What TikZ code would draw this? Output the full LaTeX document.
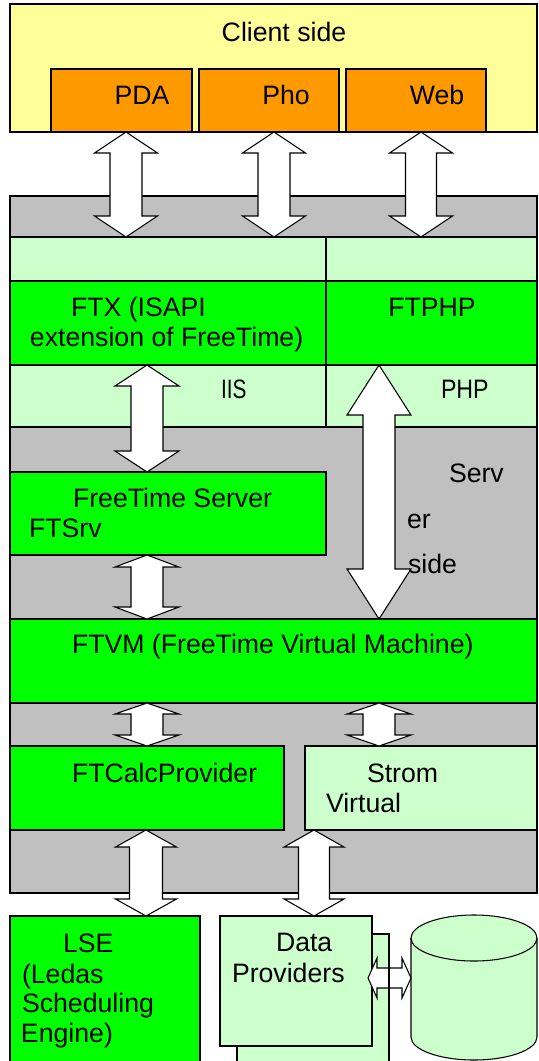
\documentclass[tikz,border=0pt]{standalone}
\usepackage{fontspec}
\setmainfont{Liberation Sans}
\usetikzlibrary{calc}
\definecolor{yel}{HTML}{FFFF99}
\definecolor{org}{HTML}{FF9900}
\definecolor{gry}{HTML}{C0C0C0}
\definecolor{lgr}{HTML}{CCFFCC}
\definecolor{grn}{HTML}{00FF00}
\tikzset{
  box/.style={draw=black, line width=0.8pt, rectangle, inner sep=0pt, outer sep=0pt, anchor=north west},
  lbl/.style={anchor=base west, inner sep=0pt, outer sep=0pt, font=\fontsize{20}{23}\selectfont},
  clbl/.style={lbl, anchor=base},
  blk/.style={draw=black, fill=white, line width=0.8pt, line join=miter},
}
% #1 name, #2 style, #3 x1, #4 y1, #5 x2, #6 y2 (pixels)
\newcommand\mkbox[6]{\node[box,#2,minimum width={(#5-#3)*0.75pt},minimum height={(#6-#4)*0.75pt}] (#1) at (#3,#4) {};}
% vertical double block arrow: #1 top tip, #2 bottom tip, #3 head length, #4 head half width, #5 shaft half width
\newcommand\vdbl[5]{\draw[blk] let \p1=(#1), \p2=(#2) in
  (\p1) -- ($(\p1)+(#4,#3)$) -- ($(\p1)+(#5,#3)$) -- ($(\p2)+(#5,-#3)$) -- ($(\p2)+(#4,-#3)$) -- (\p2)
  -- ($(\p2)+(-#4,-#3)$) -- ($(\p2)+(-#5,-#3)$) -- ($(\p1)+(-#5,#3)$) -- ($(\p1)+(-#4,#3)$) -- cycle;}
% horizontal double block arrow: #1 left tip, #2 right tip
\newcommand\hdbl[5]{\draw[blk] let \p1=(#1), \p2=(#2) in
  (\p1) -- ($(\p1)+(#3,-#4)$) -- ($(\p1)+(#3,-#5)$) -- ($(\p2)+(-#3,-#5)$) -- ($(\p2)+(-#3,-#4)$) -- (\p2)
  -- ($(\p2)+(-#3,#4)$) -- ($(\p2)+(-#3,#5)$) -- ($(\p1)+(#3,#5)$) -- ($(\p1)+(#3,#4)$) -- cycle;}
\begin{document}
\begin{tikzpicture}[x=0.75pt,y=-0.75pt]
\path[use as bounding box, clip] (0,0) rectangle (539,1061);
\fill[white] (0,0) rectangle (539,1061);
% server area
\mkbox{srv}{fill=gry}{10}{196}{537}{893}
% client side
\mkbox{cli}{fill=yel}{10}{4}{537}{132}
\mkbox{PDA}{fill=org}{51}{69}{192}{132}
\mkbox{Pho}{fill=org}{199}{69}{339}{132}
\mkbox{Web}{fill=org}{346}{69}{486}{132}
% web server bands
\mkbox{lgL}{fill=lgr}{10}{237}{326}{427}
\mkbox{lgR}{fill=lgr}{326}{237}{537}{427}
\mkbox{FTX}{fill=grn}{10}{281}{326}{365}
\mkbox{FTPHP}{fill=grn}{326}{281}{537}{365}
\mkbox{FTSrv}{fill=grn}{10}{472}{326}{555}
\mkbox{FTVM}{fill=grn}{10}{619}{537}{703}
\mkbox{FTCalc}{fill=grn}{10}{746}{284}{830}
\mkbox{Strom}{fill=lgr}{305}{746}{537}{830}
% bottom row
\mkbox{LSE}{fill=grn}{10}{916}{200}{1080}
\mkbox{DPb}{fill=lgr}{237}{934}{389}{1080}
\mkbox{DPf}{fill=lgr}{220}{916}{372}{1046}
% database cylinder
\fill[lgr] (411,938) -- (411,1037) arc[start angle=180,end angle=0,x radius=63,y radius=23] -- (537,938) -- cycle;
\draw[line width=0.8pt] (411,938) -- (411,1037) arc[start angle=180,end angle=0,x radius=63,y radius=23] -- (537,938);
\draw[line width=0.8pt, fill=lgr] (474,938) ellipse [x radius=63, y radius=23];
\coordinate (cylL) at (411,978);
\coordinate (dpR) at (368,978);
% arrows
\vdbl{126,0 |- PDA.south}{126,0 |- lgL.north}{21}{31.5}{16}
\vdbl{274,0 |- Pho.south}{274,0 |- lgL.north}{21}{31.5}{16}
\vdbl{421,0 |- Web.south}{421,0 |- lgR.north}{21}{31.5}{15.5}
\vdbl{147,0 |- FTX.south}{147,0 |- FTSrv.north}{21}{32}{16}
\vdbl{147,0 |- FTSrv.south}{147,0 |- FTVM.north}{12}{32}{16}
\vdbl{147,0 |- FTVM.south}{147,0 |- FTCalc.north}{11}{32}{16}
\vdbl{379,0 |- FTVM.south}{379,0 |- Strom.north}{11}{32}{16}
\vdbl{146,0 |- FTCalc.south}{146,0 |- LSE.north}{17}{30.5}{16.5}
\vdbl{314,0 |- Strom.south}{314,0 |- DPf.north}{17}{30}{15.5}
\vdbl{379,0 |- FTPHP.south}{379,0 |- FTVM.north}{50}{32}{16}
\hdbl{dpR}{cylL}{9}{20}{10}
\draw[line width=0.8pt] (DPb.north east) -- (DPb.south east);
% labels
\node[clbl] (tcli) at (284,41) {Client side};
\node[clbl] (tpda) at (142,104) {PDA};
\node[clbl] (tpho) at (286,104) {Pho};
\node[clbl] (tweb) at (437,104) {Web};
\node[lbl] (tftx1) at (71,316) {FTX (ISAPI};
\node[lbl] (tftx2) at (30,346) {extension of FreeTime)};
\node[clbl] (tftphp) at (432,316) {FTPHP};
\node[lbl] (tiis) at (221,398) {\scalebox{0.78}[1]{IIS}};
\node[lbl] (tphp) at (441,398) {\scalebox{0.87}[1]{PHP}};
\node[lbl] (tsrv1) at (73,507) {FreeTime Server};
\node[lbl] (tsrv2) at (29,537) {FTSrv};
\node[lbl] (tserv) at (449,482) {Serv};
\node[lbl] (ter) at (407,528) {er};
\node[lbl] (tside) at (408,573) {side};
\node[lbl] (tvm) at (72,653) {FTVM (FreeTime Virtual Machine)};
\node[lbl] (tcalc) at (72,782) {FTCalcProvider};
\node[lbl] (tstrom) at (367,782) {Strom};
\node[lbl] (tvirt) at (326,812) {Virtual};
\node[lbl] (tlse1) at (63,952) {LSE};
\node[lbl] (tlse2) at (22,983) {(Ledas};
\node[lbl] (tlse3) at (22,1012) {Scheduling};
\node[lbl] (tlse4) at (21,1042) {Engine)};
\node[lbl] (tdp1) at (276,951) {Data};
\node[lbl] (tdp2) at (232,982) {Providers};
\end{tikzpicture}
\end{document}
